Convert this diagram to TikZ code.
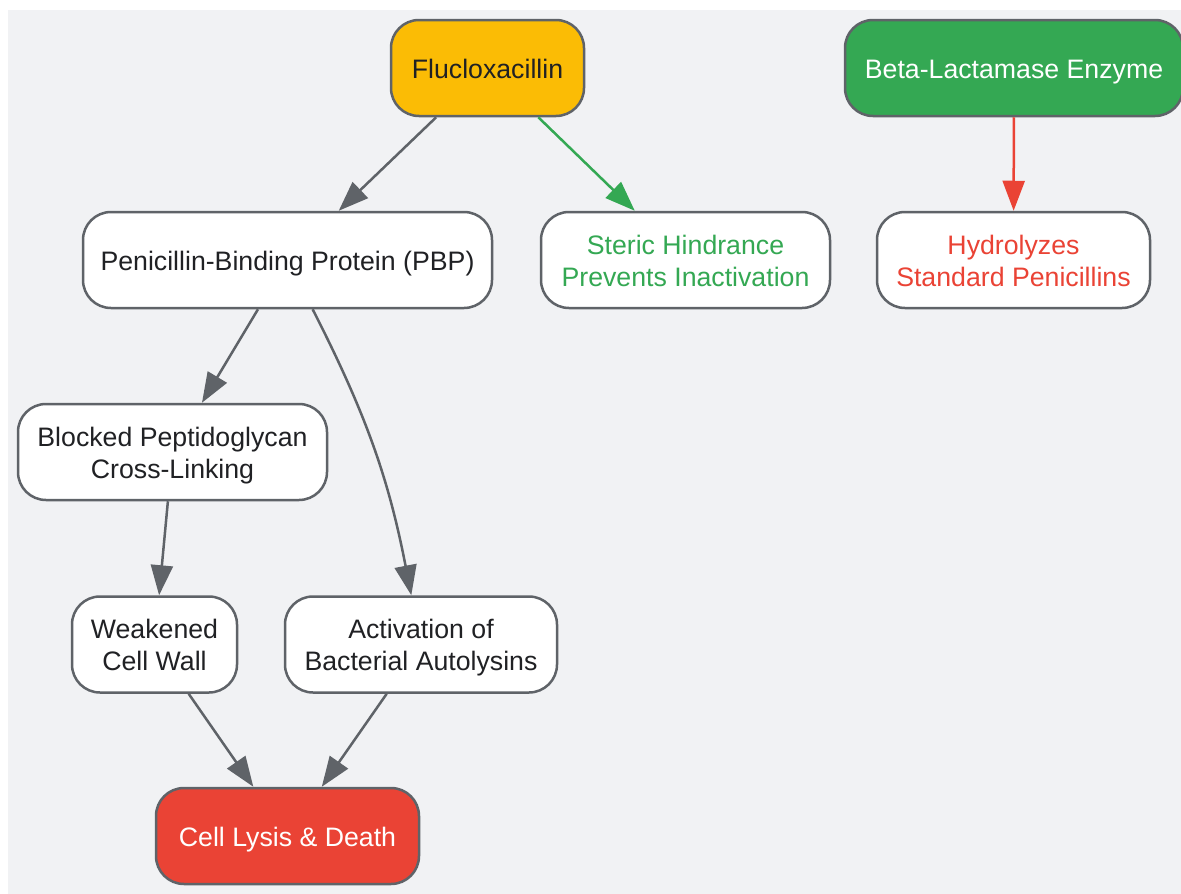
\documentclass[tikz,border=0pt]{standalone}
\usepackage{fontspec}
\setmainfont{Liberation Sans}
\usetikzlibrary{arrows.meta}

\definecolor{bggray}{HTML}{F1F2F4}
\definecolor{linegray}{HTML}{5F6368}
\definecolor{txtgray}{HTML}{202124}
\definecolor{gyellow}{HTML}{FBBC05}
\definecolor{ggreen}{HTML}{34A853}
\definecolor{gred}{HTML}{EA4335}

\begin{document}
\begin{tikzpicture}[x=1pt,y=-1pt,
  box/.style={draw=linegray, line width=2.5pt, rounded corners=28pt, fill=white,
    text=txtgray, align=center, inner sep=0pt,
    font=\fontsize{26.7}{32}\selectfont, minimum height=96pt},
  oneline/.style={text height=24pt, text depth=2.6pt},
  twoline/.style={text height=55pt, text depth=3pt},
  conn/.style={draw=linegray, line width=2.5pt, -{Triangle[length=30pt,width=22pt]}},
  ]
\useasboundingbox (0,0) rectangle (1181,894);
\fill[bggray] (8,10) rectangle (1181,894);

% top row
\node[box, oneline, fill=gyellow, minimum width=193pt] (fluclox) at (487.5,68) {Flucloxacillin};
\node[box, oneline, fill=ggreen, text=white, minimum width=338pt] (betalact) at (1014,68) {Beta-Lactamase Enzyme};

% second row
\node[box, oneline, minimum width=409pt] (pbp) at (287.5,260) {Penicillin-Binding Protein (PBP)};
\node[box, twoline, text=ggreen, minimum width=289pt] (steric) at (685.5,260) {Steric Hindrance\\Prevents Inactivation};
\node[box, twoline, text=gred, minimum width=273pt] (hydro) at (1013.5,260) {Hydrolyzes\\Standard Penicillins};

% lower part
\node[box, twoline, minimum width=309pt] (blocked) at (172.5,452) {Blocked Peptidoglycan\\Cross-Linking};
\node[box, twoline, minimum width=165pt] (weak) at (154.5,644.5) {Weakened\\Cell Wall};
\node[box, twoline, minimum width=272pt] (autolys) at (421,644.5) {Activation of\\Bacterial Autolysins};
\node[box, oneline, fill=gred, text=white, minimum width=263pt] (lysis) at (287.5,836) {Cell Lysis \& Death};

% connectors
\draw[conn] (fluclox) -- (pbp);
\draw[conn, draw=ggreen, -{Triangle[length=30pt,width=22pt,fill=ggreen]}] (fluclox) -- (steric);
\draw[conn, draw=gred, -{Triangle[length=30pt,width=22pt,fill=gred]}] (betalact) -- (hydro);
\draw[conn] (pbp) -- (blocked);
\draw[conn] (pbp) to[bend left=8] (autolys);
\draw[conn] (blocked) -- (weak);
\draw[conn] (weak) -- (lysis);
\draw[conn] (autolys) -- (lysis);

\end{tikzpicture}
\end{document}
